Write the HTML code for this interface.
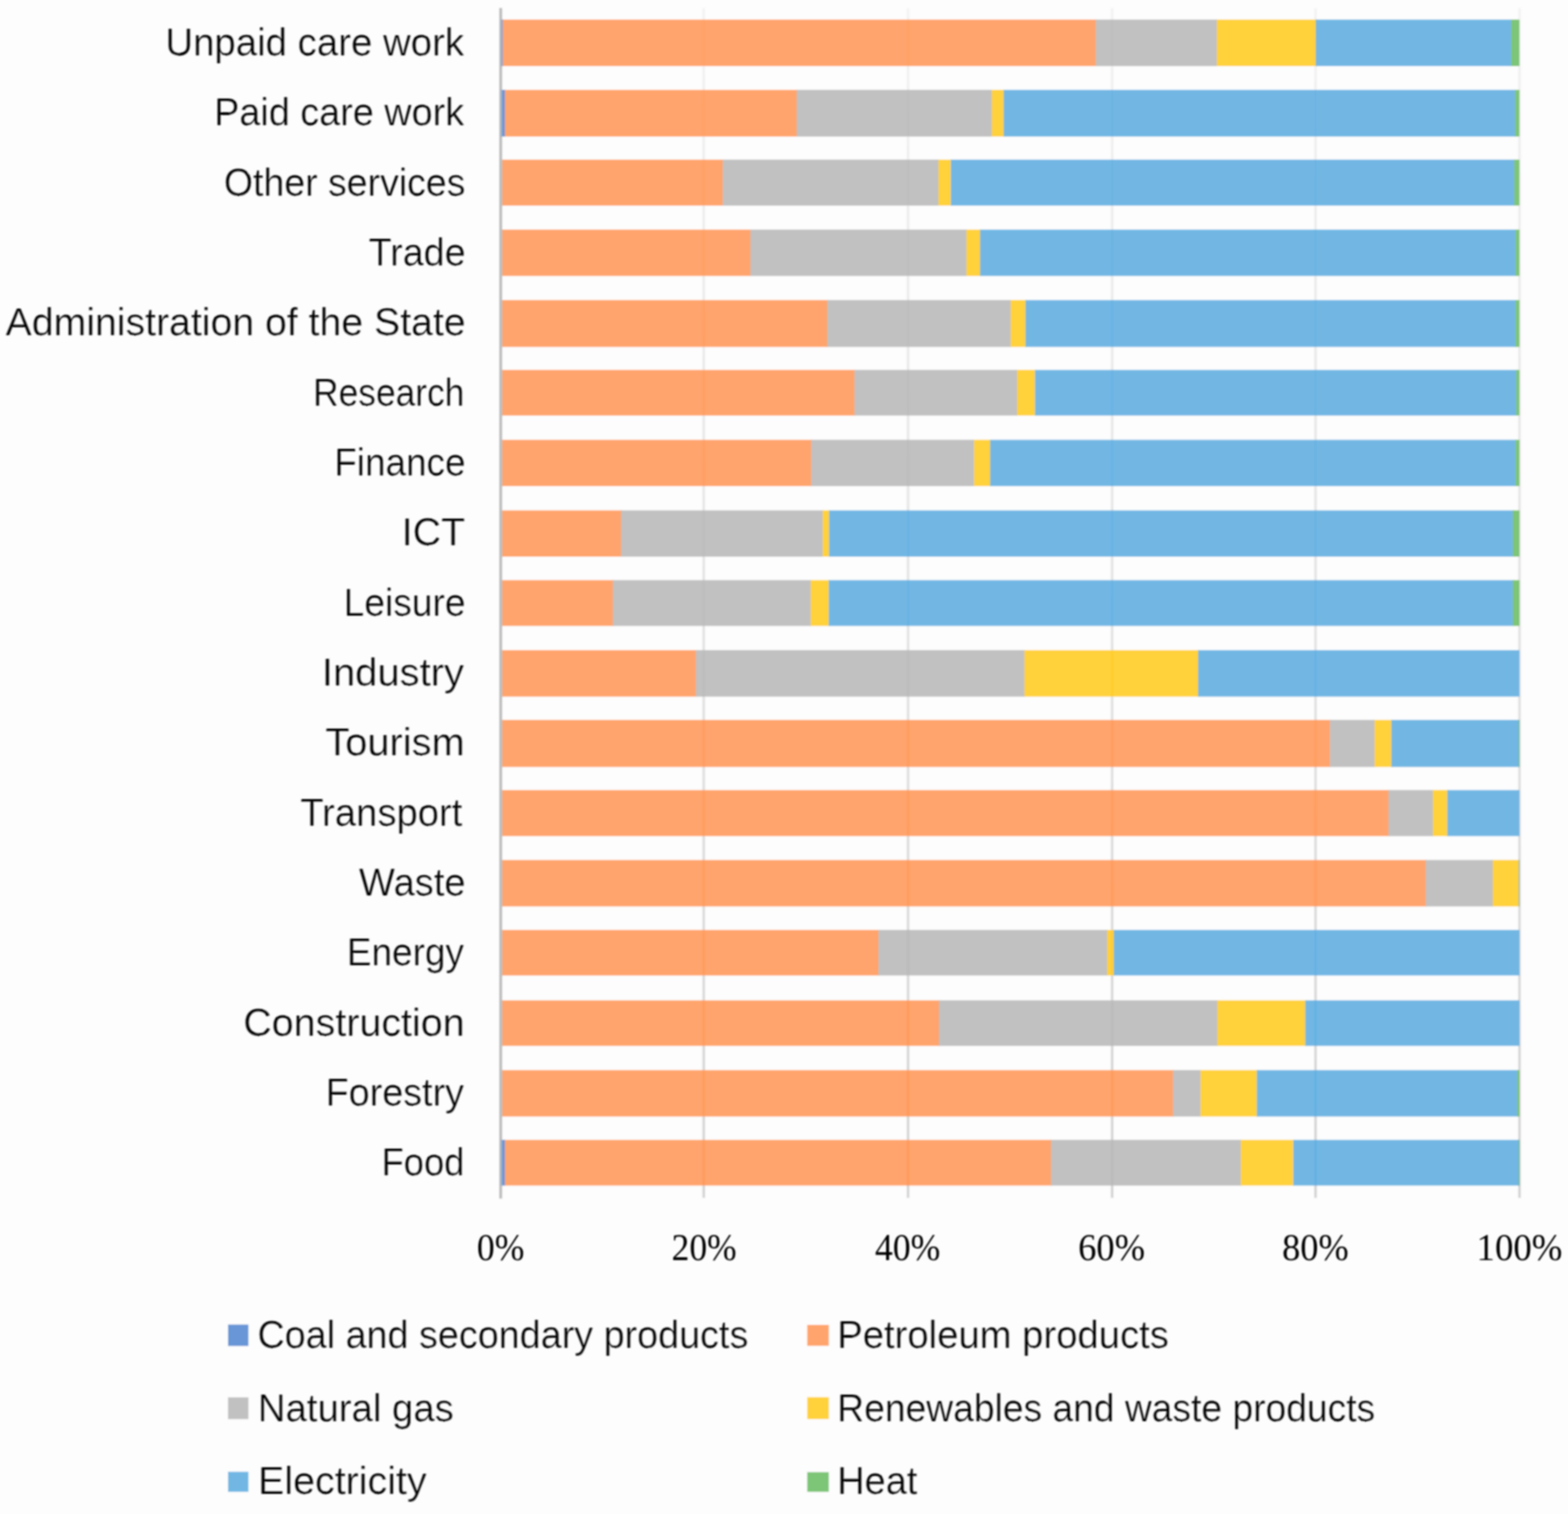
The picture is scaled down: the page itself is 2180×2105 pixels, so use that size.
<!DOCTYPE html>
<html lang="en"><head><meta charset="utf-8"><title>Energy mix by sector</title>
<style>html,body{margin:0;padding:0;background:#fdfdfd}body{width:2180px;height:2105px;overflow:hidden}svg{display:block}.burn{mix-blend-mode:color-burn}.l{font-family:"Liberation Sans",sans-serif;font-size:54px;fill:#000;stroke:#fdfdfd;stroke-width:0.2px}.t{font-family:"Liberation Serif",serif;font-size:52.4px;fill:#000}</style></head><body>
<svg width="2180" height="2105" viewBox="0 0 2180 2105">
<defs><linearGradient id="gg" gradientUnits="userSpaceOnUse" x1="0" y1="11" x2="0" y2="1666"><stop offset="0" stop-color="#f3f3f3"/><stop offset="1" stop-color="#d7d7d7"/></linearGradient><linearGradient id="gb" gradientUnits="userSpaceOnUse" x1="0" y1="11" x2="0" y2="1666"><stop offset="0" stop-color="#f7f7f7"/><stop offset="1" stop-color="#e6e6e6"/></linearGradient><filter id="lens" filterUnits="userSpaceOnUse" x="0" y="0" width="2180" height="2105"><feGaussianBlur stdDeviation="1"/></filter></defs>
<g filter="url(#lens)">
<rect x="-10" y="-10" width="2200" height="2125" fill="#fdfdfd"/>
<g fill="url(#gg)">
<rect x="976.6" y="11.5" width="3.6" height="1654" />
<rect x="1260.7" y="11.5" width="3.6" height="1654" />
<rect x="1544.4" y="11.5" width="3.6" height="1654" />
<rect x="1827.2" y="11.5" width="3.6" height="1654" />
<rect x="2110.8" y="11.5" width="3.6" height="1654" />
</g>
<g shape-rendering="auto">
<rect x="698" y="27.2" width="2" height="64.7" fill="#6796D6"/>
<rect x="699" y="27.2" width="825.3" height="64.7" fill="#FFA46C"/>
<rect x="1523.3" y="27.2" width="169.5" height="64.7" fill="#C1C1C1"/>
<rect x="1691.8" y="27.2" width="138.4" height="64.7" fill="#FFD13A"/>
<rect x="1829.2" y="27.2" width="272.8" height="64.7" fill="#72B7E4"/>
<rect x="2101" y="27.2" width="11.5" height="64.7" fill="#7DC577"/>
<rect x="698" y="124.9" width="5" height="65" fill="#6796D6"/>
<rect x="702" y="124.9" width="406.7" height="65" fill="#FFA46C"/>
<rect x="1107.7" y="124.9" width="272" height="65" fill="#C1C1C1"/>
<rect x="1378.7" y="124.9" width="17.6" height="65" fill="#FFD13A"/>
<rect x="1395.3" y="124.9" width="712.3" height="65" fill="#72B7E4"/>
<rect x="2106.6" y="124.9" width="5.9" height="65" fill="#7DC577"/>
<rect x="698" y="221.9" width="307.9" height="64" fill="#FFA46C"/>
<rect x="1004.9" y="221.9" width="300.8" height="64" fill="#C1C1C1"/>
<rect x="1304.7" y="221.9" width="18.2" height="64" fill="#FFD13A"/>
<rect x="1321.9" y="221.9" width="784.2" height="64" fill="#72B7E4"/>
<rect x="2105.1" y="221.9" width="7.4" height="64" fill="#7DC577"/>
<rect x="698" y="319.2" width="346.3" height="64.5" fill="#FFA46C"/>
<rect x="1043.3" y="319.2" width="301.3" height="64.5" fill="#C1C1C1"/>
<rect x="1343.6" y="319.2" width="19.9" height="64.5" fill="#FFD13A"/>
<rect x="1362.5" y="319.2" width="745.5" height="64.5" fill="#72B7E4"/>
<rect x="2107" y="319.2" width="5.5" height="64.5" fill="#7DC577"/>
<rect x="698" y="417.2" width="453.2" height="65.2" fill="#FFA46C"/>
<rect x="1150.2" y="417.2" width="255.9" height="65.2" fill="#C1C1C1"/>
<rect x="1405.1" y="417.2" width="21.6" height="65.2" fill="#FFD13A"/>
<rect x="1425.7" y="417.2" width="682.3" height="65.2" fill="#72B7E4"/>
<rect x="2107" y="417.2" width="5.5" height="65.2" fill="#7DC577"/>
<rect x="698" y="514.3" width="491" height="63.5" fill="#FFA46C"/>
<rect x="1188" y="514.3" width="227.2" height="63.5" fill="#C1C1C1"/>
<rect x="1414.2" y="514.3" width="25.7" height="63.5" fill="#FFD13A"/>
<rect x="1438.9" y="514.3" width="669.9" height="63.5" fill="#72B7E4"/>
<rect x="2107.8" y="514.3" width="4.7" height="63.5" fill="#7DC577"/>
<rect x="698" y="611.5" width="430.9" height="64.4" fill="#FFA46C"/>
<rect x="1127.9" y="611.5" width="227.1" height="64.4" fill="#C1C1C1"/>
<rect x="1354" y="611.5" width="23.5" height="64.4" fill="#FFD13A"/>
<rect x="1376.5" y="611.5" width="731.5" height="64.4" fill="#72B7E4"/>
<rect x="2107" y="611.5" width="5.5" height="64.4" fill="#7DC577"/>
<rect x="698" y="709.6" width="166.6" height="64.4" fill="#FFA46C"/>
<rect x="863.6" y="709.6" width="281.2" height="64.4" fill="#C1C1C1"/>
<rect x="1143.8" y="709.6" width="9.9" height="64.4" fill="#FFD13A"/>
<rect x="1152.7" y="709.6" width="951.6" height="64.4" fill="#72B7E4"/>
<rect x="2103.3" y="709.6" width="9.2" height="64.4" fill="#7DC577"/>
<rect x="698" y="806.6" width="155.2" height="63.7" fill="#FFA46C"/>
<rect x="852.2" y="806.6" width="275.9" height="63.7" fill="#C1C1C1"/>
<rect x="1127.1" y="806.6" width="26.1" height="63.7" fill="#FFD13A"/>
<rect x="1152.2" y="806.6" width="952.1" height="63.7" fill="#72B7E4"/>
<rect x="2103.3" y="806.6" width="9.2" height="63.7" fill="#7DC577"/>
<rect x="698" y="903.9" width="270.3" height="64.7" fill="#FFA46C"/>
<rect x="967.3" y="903.9" width="458" height="64.7" fill="#C1C1C1"/>
<rect x="1424.3" y="903.9" width="242.3" height="64.7" fill="#FFD13A"/>
<rect x="1665.6" y="903.9" width="446.9" height="64.7" fill="#72B7E4"/>
<rect x="698" y="1000.9" width="1151.9" height="65.5" fill="#FFA46C"/>
<rect x="1848.9" y="1000.9" width="63.1" height="65.5" fill="#C1C1C1"/>
<rect x="1911" y="1000.9" width="24.4" height="65.5" fill="#FFD13A"/>
<rect x="1934.4" y="1000.9" width="178.1" height="65.5" fill="#72B7E4"/>
<rect x="2111.5" y="1000.9" width="1" height="65.5" fill="#7DC577"/>
<rect x="698" y="1098.5" width="1233.5" height="64" fill="#FFA46C"/>
<rect x="1930.5" y="1098.5" width="62.7" height="64" fill="#C1C1C1"/>
<rect x="1992.2" y="1098.5" width="21" height="64" fill="#FFD13A"/>
<rect x="2012.2" y="1098.5" width="100.3" height="64" fill="#72B7E4"/>
<rect x="698" y="1195.7" width="1285.1" height="64.6" fill="#FFA46C"/>
<rect x="1982.1" y="1195.7" width="94.4" height="64.6" fill="#C1C1C1"/>
<rect x="2075.5" y="1195.7" width="37" height="64.6" fill="#FFD13A"/>
<rect x="2111.5" y="1195.7" width="1" height="64.6" fill="#72B7E4"/>
<rect x="698" y="1292.9" width="524.3" height="63.4" fill="#FFA46C"/>
<rect x="1221.3" y="1292.9" width="319.1" height="63.4" fill="#C1C1C1"/>
<rect x="1539.4" y="1292.9" width="9.9" height="63.4" fill="#FFD13A"/>
<rect x="1548.3" y="1292.9" width="564.2" height="63.4" fill="#72B7E4"/>
<rect x="698" y="1390.8" width="608.6" height="63.4" fill="#FFA46C"/>
<rect x="1305.6" y="1390.8" width="387.9" height="63.4" fill="#C1C1C1"/>
<rect x="1692.5" y="1390.8" width="123.2" height="63.4" fill="#FFD13A"/>
<rect x="1814.7" y="1390.8" width="297.8" height="63.4" fill="#72B7E4"/>
<rect x="698" y="1487.8" width="934" height="64.6" fill="#FFA46C"/>
<rect x="1631" y="1487.8" width="39" height="64.6" fill="#C1C1C1"/>
<rect x="1669" y="1487.8" width="79.4" height="64.6" fill="#FFD13A"/>
<rect x="1747.4" y="1487.8" width="363.1" height="64.6" fill="#72B7E4"/>
<rect x="2109.5" y="1487.8" width="3" height="64.6" fill="#7DC577"/>
<rect x="698" y="1584.8" width="5" height="63.6" fill="#6796D6"/>
<rect x="702" y="1584.8" width="760.3" height="63.6" fill="#FFA46C"/>
<rect x="1461.3" y="1584.8" width="264.8" height="63.6" fill="#C1C1C1"/>
<rect x="1725.1" y="1584.8" width="73.9" height="63.6" fill="#FFD13A"/>
<rect x="1798" y="1584.8" width="314.5" height="63.6" fill="#72B7E4"/>
<rect x="2111.5" y="1584.8" width="1" height="63.6" fill="#7DC577"/>
</g>
<g>
<rect class="burn" x="976.8" y="11.5" width="3.2" height="1654" fill="url(#gb)"/>
<rect class="burn" x="1260.9" y="11.5" width="3.2" height="1654" fill="url(#gb)"/>
<rect class="burn" x="1544.6" y="11.5" width="3.2" height="1654" fill="url(#gb)"/>
<rect class="burn" x="1827.4" y="11.5" width="3.2" height="1654" fill="url(#gb)"/>
<rect class="burn" x="2111" y="11.5" width="3.2" height="1654" fill="url(#gb)"/>
<rect x="694" y="11" width="4.2" height="1655.5" fill="#bfbfbf"/>
<rect x="696.3" y="27.2" width="2" height="64.7" fill="#6796D6" fill-opacity="0.45"/>
<rect x="696.3" y="124.9" width="2" height="65" fill="#6796D6" fill-opacity="0.45"/>
<rect x="696.3" y="1584.8" width="2" height="63.6" fill="#6796D6" fill-opacity="0.45"/>
</g>
<g>
<rect x="317" y="1841.6" width="28.4" height="29.8" fill="#6796D6"/>
<rect x="1122.3" y="1842" width="30" height="29.2" fill="#FFA46C"/>
<rect x="317" y="1942.8" width="28.4" height="30.3" fill="#C1C1C1"/>
<rect x="1122.3" y="1942.6" width="30" height="30.5" fill="#FFD13A"/>
<rect x="317" y="2046.3" width="28.4" height="27.9" fill="#72B7E4"/>
<rect x="1122.3" y="2046.8" width="30" height="27.4" fill="#7DC577"/>
</g>
</g>
<g class="l" filter="url(#lens)">
<text x="229.88" y="76.8" textLength="415.34" lengthAdjust="spacingAndGlyphs">Unpaid care work</text>
<text x="297.69" y="174.15" textLength="347.53" lengthAdjust="spacingAndGlyphs">Paid care work</text>
<text x="311.13" y="271.5" textLength="336.05" lengthAdjust="spacingAndGlyphs">Other services</text>
<text x="512.42" y="368.85" textLength="134.9" lengthAdjust="spacingAndGlyphs">Trade</text>
<text x="7.79" y="466.2" textLength="639.63" lengthAdjust="spacingAndGlyphs">Administration of the State</text>
<text x="435.27" y="563.55" textLength="210.32" lengthAdjust="spacingAndGlyphs">Research</text>
<text x="464.69" y="660.9" textLength="182.59" lengthAdjust="spacingAndGlyphs">Finance</text>
<text x="558.55" y="758.25" textLength="88.21" lengthAdjust="spacingAndGlyphs">ICT</text>
<text x="477.76" y="855.6" textLength="169.54" lengthAdjust="spacingAndGlyphs">Leisure</text>
<text x="447.47" y="952.95" textLength="197.64" lengthAdjust="spacingAndGlyphs">Industry</text>
<text x="452.36" y="1050.3" textLength="193.69" lengthAdjust="spacingAndGlyphs">Tourism</text>
<text x="417.41" y="1147.65" textLength="225.28" lengthAdjust="spacingAndGlyphs">Transport</text>
<text x="499.07" y="1245" textLength="148.29" lengthAdjust="spacingAndGlyphs">Waste</text>
<text x="482.18" y="1342.35" textLength="162.92" lengthAdjust="spacingAndGlyphs">Energy</text>
<text x="338.22" y="1439.7" textLength="307.74" lengthAdjust="spacingAndGlyphs">Construction</text>
<text x="452.7" y="1537.05" textLength="192.41" lengthAdjust="spacingAndGlyphs">Forestry</text>
<text x="530.45" y="1634.4" textLength="115.2" lengthAdjust="spacingAndGlyphs">Food</text>
</g>
<g class="t" filter="url(#lens)">
<text x="662.91" y="1751.6" textLength="66.19" lengthAdjust="spacingAndGlyphs">0%</text>
<text x="933.73" y="1751.6" textLength="90.46" lengthAdjust="spacingAndGlyphs">20%</text>
<text x="1216.53" y="1751.6" textLength="90.86" lengthAdjust="spacingAndGlyphs">40%</text>
<text x="1499.02" y="1751.6" textLength="92.91" lengthAdjust="spacingAndGlyphs">60%</text>
<text x="1782.47" y="1751.6" textLength="92.65" lengthAdjust="spacingAndGlyphs">80%</text>
<text x="2052.8" y="1751.6" textLength="119.45" lengthAdjust="spacingAndGlyphs">100%</text>
</g>
<g class="l" filter="url(#lens)">
<text x="357.94" y="1874.2" textLength="682.46" lengthAdjust="spacingAndGlyphs">Coal and secondary products</text>
<text x="1163.94" y="1874.2" textLength="461.18" lengthAdjust="spacingAndGlyphs">Petroleum products</text>
<text x="358.53" y="1975.6" textLength="272.39" lengthAdjust="spacingAndGlyphs">Natural gas</text>
<text x="1164.06" y="1975.6" textLength="747.91" lengthAdjust="spacingAndGlyphs">Renewables and waste products</text>
<text x="358.81" y="2077.3" textLength="234.4" lengthAdjust="spacingAndGlyphs">Electricity</text>
<text x="1163.97" y="2077.2" textLength="111.52" lengthAdjust="spacingAndGlyphs">Heat</text>
</g>
</svg></body></html>
